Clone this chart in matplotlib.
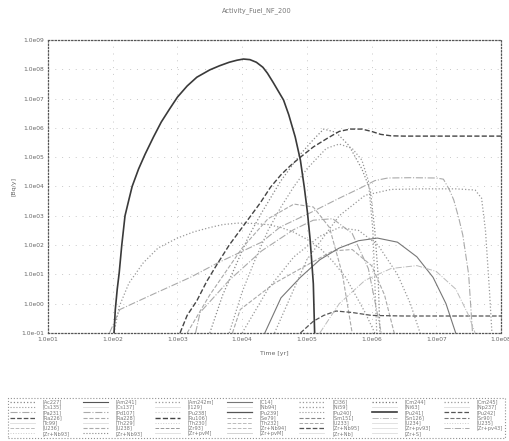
import numpy as np
import matplotlib
matplotlib.use("Agg")
import matplotlib.pyplot as plt
from matplotlib.ticker import FixedLocator, FuncFormatter, NullLocator

TITLE = "Activity_Fuel_NF_200"
XLABEL = "Time [yr]"
YLABEL = "[Bq/y]"
X_TICKS = [1e1, 1e2, 1e3, 1e4, 1e5, 1e6, 1e7, 1e8]
Y_TICKS = [1e-1, 1e0, 1e1, 1e2, 1e3, 1e4, 1e5, 1e6, 1e7, 1e8, 1e9]

# legend labels, column by column (7 columns, 7/7/7/7/7/7/6 rows)
LABELS = [
    "[Ac227]", "[Cs135]", "[Pa231]", "[Ra226]", "[Tc99]", "[U236]", "[Zr+Nb93]",
    "[Am241]", "[Cs137]", "[Pd107]", "[Ra228]", "[Th229]", "[U238]", "[Zr+Nb93]",
    "[Am242m]", "[I129]", "[Pu238]", "[Ru106]", "[Th230]", "[Zr93]", "[Zr+pvM]",
    "[C14]", "[Nb94]", "[Pu239]", "[Se79]", "[Th232]", "[Zr+Nb94]", "[Zr+pvM]",
    "[Cl36]", "[Ni59]", "[Pu240]", "[Sm151]", "[U233]", "[Zr+Nb95]", "[Zr+Nb]",
    "[Cm244]", "[Ni63]", "[Pu241]", "[Sn126]", "[U234]", "[Zr+pv93]", "[Zr+S]",
    "[Cm245]", "[Np237]", "[Pu242]", "[Sr90]", "[U235]", "[Zr+pv43]",
]
# (colour, linestyle, linewidth) for each legend entry, same order
STYLES = [
    ("#888888", ":", 0.9), ("#999999", ":", 0.8), ("#aaaaaa", "-.", 0.8), ("#555555", "--", 0.9),
    ("#dddddd", "-", 0.6), ("#bbbbbb", "--", 0.7), ("#cccccc", ":", 0.7),
    ("#555555", "-", 0.8), ("#dddddd", "-", 0.6), ("#aaaaaa", "-.", 0.8), ("#aaaaaa", "--", 0.8),
    ("#dddddd", "-", 0.6), ("#aaaaaa", "--", 0.8), ("#888888", ":", 0.8),
    ("#999999", ":", 0.9), ("#dddddd", "-", 0.6), ("#cccccc", ":", 0.8), ("#444444", "--", 1.0),
    ("#cccccc", ":", 0.7), ("#999999", "--", 0.7), ("#dddddd", "-", 0.6),
    ("#777777", "-", 0.8), ("#dddddd", "-", 0.6), ("#555555", "-", 0.9), ("#aaaaaa", "--", 0.7),
    ("#bbbbbb", "--", 0.7), ("#bbbbbb", "--", 0.7), ("#cccccc", "-", 0.6),
    ("#999999", ":", 0.9), ("#999999", ":", 0.9), ("#999999", ":", 0.8), ("#888888", "--", 0.8),
    ("#aaaaaa", "--", 0.7), ("#555555", "--", 0.9), ("#dddddd", "-", 0.6),
    ("#777777", ":", 0.9), ("#dddddd", "-", 0.6), ("#3a3a3a", "-", 1.2), ("#bbbbbb", "-.", 0.7),
    ("#dddddd", "-", 0.6), ("#dddddd", "-", 0.6), ("#dddddd", "-", 0.6),
    ("#999999", ":", 0.9), ("#dddddd", "-", 0.6), ("#555555", "--", 0.9), ("#777777", "--", 0.8),
    ("#cccccc", ":", 0.7), ("#aaaaaa", "-.", 0.7),
]

# curves: log10(time [yr]) and log10(activity)
PU241_LT = [2.02, 2.04, 2.07, 2.10, 2.14, 2.19, 2.25, 2.30, 2.40, 2.50, 2.63, 2.75, 2.88, 3.00, 3.15,
            3.30, 3.50, 3.65, 3.80, 3.92, 4.02, 4.12, 4.22, 4.32, 4.39, 4.48, 4.56, 4.64, 4.72, 4.82,
            4.90, 4.96, 5.01, 5.05, 5.08, 5.10, 5.12]
PU241_LA = [-1.0, -0.2, 0.5, 1.05, 2.0, 3.0, 3.55, 4.0, 4.6, 5.1, 5.69, 6.2, 6.65, 7.05, 7.43,
            7.73, 7.98, 8.12, 8.24, 8.31, 8.35, 8.33, 8.24, 8.07, 7.87, 7.55, 7.25, 6.95, 6.45, 5.69,
            4.9, 3.98, 3.1, 2.2, 1.3, 0.68, -1.0]

RU106_LT = [3.04, 3.15, 3.30, 3.45, 3.60, 3.80, 4.00, 4.15, 4.28, 4.44, 4.60, 4.75, 4.90, 5.10, 5.32,
            5.50, 5.67, 5.85, 6.00, 6.14, 6.30, 6.50, 7.00, 7.50, 8.00]
RU106_LA = [-1.0, -0.4, 0.1, 0.75, 1.3, 2.0, 2.6, 3.05, 3.44, 3.98, 4.40, 4.72, 5.00, 5.35, 5.65,
            5.88, 5.96, 5.96, 5.88, 5.78, 5.73, 5.72, 5.72, 5.72, 5.72]

AC227_LT = [3.50, 3.70, 3.90, 4.10, 4.30, 4.60, 4.90, 5.10, 5.26, 5.45, 5.65, 5.85, 5.98, 6.05, 6.10, 6.13]
AC227_LA = [-1.0, 0.3, 1.3, 2.3, 3.1, 4.2, 5.1, 5.6, 5.96, 5.85, 5.4, 4.6, 3.88, 2.5, 1.0, -1.0]

CL36_LT = [3.80, 4.00, 4.20, 4.40, 4.60, 4.80, 5.00, 5.30, 5.50, 5.70, 5.85, 5.95, 6.02, 6.08]
CL36_LA = [-1.0, 0.4, 1.5, 2.5, 3.3, 4.0, 4.6, 5.3, 5.45, 5.3, 4.9, 4.2, 2.5, -1.0]

PA231_LT = [1.95, 2.11, 2.60, 3.20, 3.62, 4.30, 4.59, 5.05, 5.50, 5.83, 6.05, 6.25, 6.60, 7.00, 7.11,
            7.20, 7.27, 7.35, 7.41, 7.50, 7.56]
PA231_LA = [-1.0, -0.2, 0.3, 0.9, 1.39, 2.10, 2.62, 3.10, 3.60, 3.95, 4.20, 4.29, 4.30, 4.29, 4.25,
            3.90, 3.54, 2.90, 2.34, 1.00, -1.0]

CM245_LT = [4.50, 5.00, 5.50, 5.90, 6.30, 6.80, 7.30, 7.60, 7.70, 7.76, 7.82, 7.86]
CM245_LA = [-1.0, 1.5, 3.0, 3.7, 3.9, 3.92, 3.92, 3.88, 3.6, 2.5, 0.5, -1.0]

AM242M_LT = [2.02, 2.10, 2.25, 2.47, 2.70, 3.00, 3.25, 3.50, 3.70, 3.93, 4.15, 4.40, 4.60, 4.79, 5.00,
             5.20, 5.40, 5.60, 5.90, 6.05]
AM242M_LA = [-1.0, -0.1, 0.7, 1.39, 1.90, 2.24, 2.45, 2.60, 2.70, 2.75, 2.74, 2.70, 2.60, 2.45, 2.20,
             1.90, 1.45, 0.90, -0.3, -1.0]

C14_LT = [4.35, 4.60, 4.90, 5.20, 5.50, 5.80, 6.09, 6.40, 6.70, 6.95, 7.15, 7.30]
C14_LA = [-1.0, 0.2, 0.9, 1.5, 1.9, 2.15, 2.24, 2.1, 1.6, 0.9, 0.0, -1.0]

ZR95_LT = [4.90, 5.10, 5.26, 5.45, 5.70, 6.00, 6.50, 7.00, 7.50, 8.00]
ZR95_LA = [-1.0, -0.6, -0.4, -0.25, -0.3, -0.4, -0.42, -0.42, -0.42, -0.42]

RA228_LT = [3.85, 3.97, 4.50, 5.06, 5.40, 5.70, 6.00, 6.20, 6.35]
RA228_LA = [-1.0, -0.2, 0.7, 1.39, 1.8, 1.85, 1.3, 0.3, -1.0]

PD107_LT = [3.28, 3.35, 3.80, 4.30, 4.79, 5.10, 5.40, 5.70, 5.95, 6.15]
PD107_LA = [-1.0, -0.3, 0.8, 1.8, 2.52, 2.85, 2.9, 2.4, 1.2, -1.0]

NI59_LT = [4.00, 4.40, 4.80, 5.20, 5.50, 5.80, 6.10, 6.40, 6.60, 6.75]
NI59_LA = [-1.0, 0.5, 1.6, 2.3, 2.6, 2.5, 2.0, 1.0, 0.0, -1.0]

SN126_LT = [5.20, 5.50, 5.90, 6.30, 6.70, 7.00, 7.30, 7.50, 7.60]
SN126_LA = [-1.0, 0.0, 0.8, 1.2, 1.3, 1.1, 0.5, -0.4, -1.0]

U238_LT = [3.15, 3.50, 4.00, 4.40, 4.80, 5.10, 5.35, 5.55, 5.70]
U238_LA = [-1.0, 0.3, 1.9, 2.9, 3.4, 3.3, 2.6, 1.0, -1.0]

CURVES = {
    "[Pu241]": (PU241_LT, PU241_LA),
    "[Ru106]": (RU106_LT, RU106_LA),
    "[Ac227]": (AC227_LT, AC227_LA),
    "[Cl36]": (CL36_LT, CL36_LA),
    "[Pa231]": (PA231_LT, PA231_LA),
    "[Cm245]": (CM245_LT, CM245_LA),
    "[Am242m]": (AM242M_LT, AM242M_LA),
    "[C14]": (C14_LT, C14_LA),
    "[Zr+Nb95]": (ZR95_LT, ZR95_LA),
    "[Ra228]": (RA228_LT, RA228_LA),
    "[Pd107]": (PD107_LT, PD107_LA),
    "[Ni59]": (NI59_LT, NI59_LA),
    "[Sn126]": (SN126_LT, SN126_LA),
    "[U238]": (U238_LT, U238_LA),
}

fig = plt.figure(figsize=(5.10, 4.41), dpi=100)
ax = fig.add_axes([48 / 510, 1 - 333 / 441, (501 - 48) / 510, (333 - 40) / 441])
ax.set_xscale("log")
ax.set_yscale("log")

handles = []
for lab, (col, ls, lw) in zip(LABELS, STYLES):
    if lab in CURVES:
        lt, la = CURVES[lab]
        xs = [10.0 ** v for v in lt]
        ys = [10.0 ** v for v in la]
    else:
        xs, ys = [], []
    h, = ax.plot(xs, ys, color=col, linestyle=ls, linewidth=lw, label=lab)
    handles.append(h)

ax.set_xlim(1e1, 1e8)
ax.set_ylim(1e-1, 1e9)


def fmt(v, pos=None):
    e = int(round(np.log10(v)))
    return "1.0e%s%02d" % ("-" if e < 0 else "", abs(e))


ax.xaxis.set_major_locator(FixedLocator(X_TICKS))
ax.yaxis.set_major_locator(FixedLocator(Y_TICKS))
ax.xaxis.set_minor_locator(NullLocator())
ax.yaxis.set_minor_locator(NullLocator())
ax.xaxis.set_major_formatter(FuncFormatter(fmt))
ax.yaxis.set_major_formatter(FuncFormatter(fmt))
ax.tick_params(axis="both", length=0, labelsize=4.3, labelcolor="#666666", pad=3)
ax.grid(True, which="major", color="#c8c8c8", linestyle=(0, (1, 6)), linewidth=0.7)
for s in ax.spines.values():
    s.set_linestyle(":")
    s.set_color("#555555")
    s.set_linewidth(0.9)

ax.set_xlabel(XLABEL, fontsize=4.5, color="#666666", labelpad=6)
ax.set_ylabel(YLABEL, fontsize=4.5, color="#666666", labelpad=3)
fig.text(0.503, 1 - 11 / 441, TITLE, fontsize=4.8, color="#777777", ha="center", va="center")

leg = fig.legend(handles=handles, labels=LABELS, loc="lower left",
                 bbox_to_anchor=(8 / 510, 3 / 441, 497 / 510, 56 / 441),
                 mode="expand", ncol=7, fontsize=3.6, frameon=True, fancybox=False,
                 handlelength=5.0, handletextpad=1.6, columnspacing=1.0,
                 labelspacing=0.05, borderpad=0.4, borderaxespad=0)
leg.get_frame().set_edgecolor("#777777")
leg.get_frame().set_linestyle(":")
leg.get_frame().set_linewidth(0.8)
for t in leg.get_texts():
    t.set_color("#777777")

fig.savefig("out.png", dpi=100)
